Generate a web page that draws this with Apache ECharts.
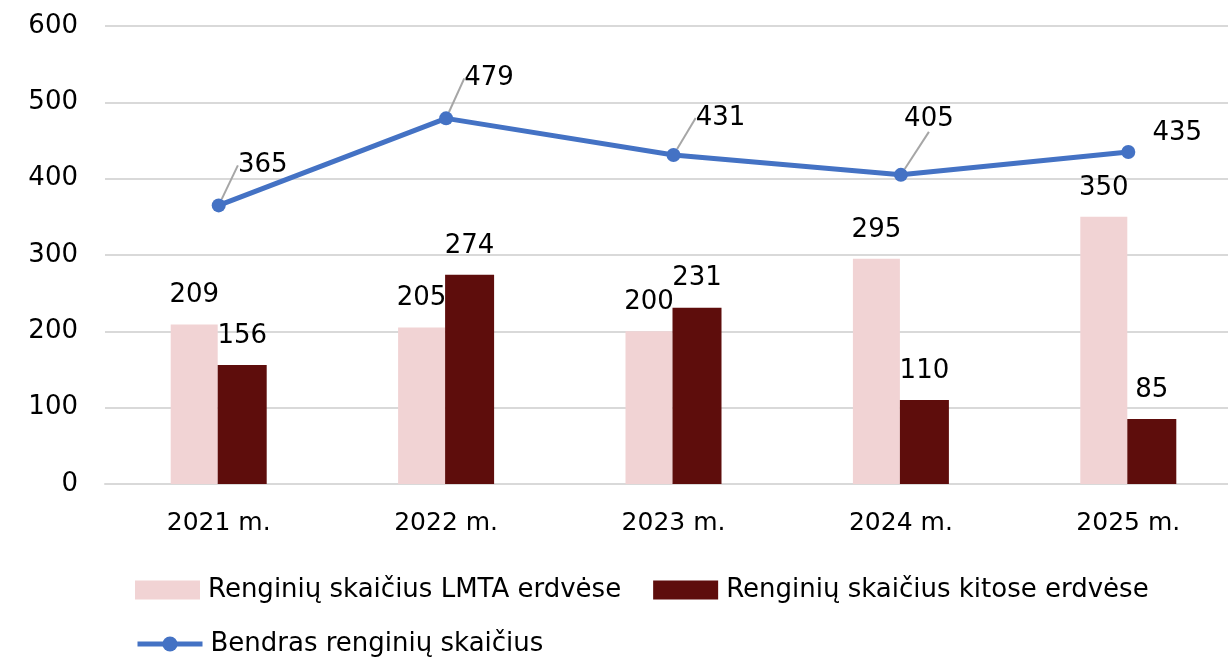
<!DOCTYPE html>
<html><head><meta charset="utf-8">
<script src="https://cdn.jsdelivr.net/npm/echarts@6/dist/echarts.min.js"></script>
<style>html,body{margin:0;padding:0;background:#fff;overflow:hidden;width:1228px;height:657px}#c{width:1242px;height:657px}</style>
</head><body><div id="c"></div>
<script>
const categories = ['2021 m.', '2022 m.', '2023 m.', '2024 m.', '2025 m.'];
const lmta = [209, 205, 200, 295, 350];
const kitose = [156, 274, 231, 110, 85];
const bendras = [365, 479, 431, 405, 435];
const yTicks = [0, 100, 200, 300, 400, 500, 600];
const names = ['Renginių skaičius LMTA erdvėse', 'Renginių skaičius kitose erdvėse', 'Bendras renginių skaičius'];
// label offsets for line labels (pixels relative to default label spot)
const lineLabelOffsets = [[44, -20], [43, -20], [47, -17], [28, -36], [49, 1]];
const showLeader = [true, true, true, true, false];

const FONT = 'DejaVu Sans';
const FS = 26;
const chart = echarts.init(document.getElementById('c'), null, {renderer: 'canvas'});
chart.setOption({
  animation: false,
  textStyle: {fontFamily: FONT, color: '#000'},
  grid: {left: 105, right: 0, top: 26, bottom: 173, containLabel: false},
  legend: [{
    data: [names[0], names[1]], left: 130, top: 572, itemWidth: 65, itemHeight: 19, itemGap: 32,
    icon: 'rect',
    textStyle: {fontFamily: FONT, fontSize: FS, color: '#000', padding: [0, 0, 0, 3]}
  }, {
    data: [names[2]], left: 130, top: 626, itemWidth: 65, itemHeight: 19,
    lineStyle: {width: 5},
    textStyle: {fontFamily: FONT, fontSize: FS, color: '#000', padding: [0, 0, 0, 3]}
  }],
  xAxis: {
    type: 'category', data: categories,
    axisLine: {lineStyle: {color: '#d9d9d9', width: 2}}, axisTick: {show: false},
    axisLabel: {fontSize: 25, color: '#000', margin: 27, fontFamily: FONT}
  },
  yAxis: {
    type: 'value', min: yTicks[0], max: yTicks[yTicks.length - 1], interval: 100,
    axisLine: {show: false}, axisTick: {show: false},
    splitLine: {lineStyle: {color: '#d9d9d9', width: 2}},
    axisLabel: {fontSize: FS, color: '#000', margin: 27, fontFamily: FONT}
  },
  series: [{
    name: names[0], type: 'bar', data: lmta, barWidth: 47, barGap: '0%',
    itemStyle: {color: '#F1D3D4'},
    label: {show: true, position: 'top', distance: 16, fontSize: FS, color: '#000', fontFamily: FONT}
  }, {
    name: names[1], type: 'bar', data: kitose, barWidth: 49, barGap: '0%',
    itemStyle: {color: '#5E0D0C'},
    label: {show: true, position: 'top', distance: 16, fontSize: FS, color: '#000', fontFamily: FONT}
  }, {
    name: names[2], type: 'line', symbol: 'circle', symbolSize: 14,
    data: bendras.map((v, i) => ({value: v, labelLine: {show: showLeader[i]}})),
    itemStyle: {color: '#4472C4'}, lineStyle: {color: '#4472C4', width: 5},
    label: {show: true, position: 'top', distance: 0, fontSize: FS, color: '#000', fontFamily: FONT},
    labelLine: {show: true, lineStyle: {color: '#a6a6a6', width: 2}},
    labelLayout: function (p) {
      const o = lineLabelOffsets[p.dataIndex];
      return {dx: o[0], dy: o[1]};
    },
    z: 5
  }]
});
</script></body></html>
